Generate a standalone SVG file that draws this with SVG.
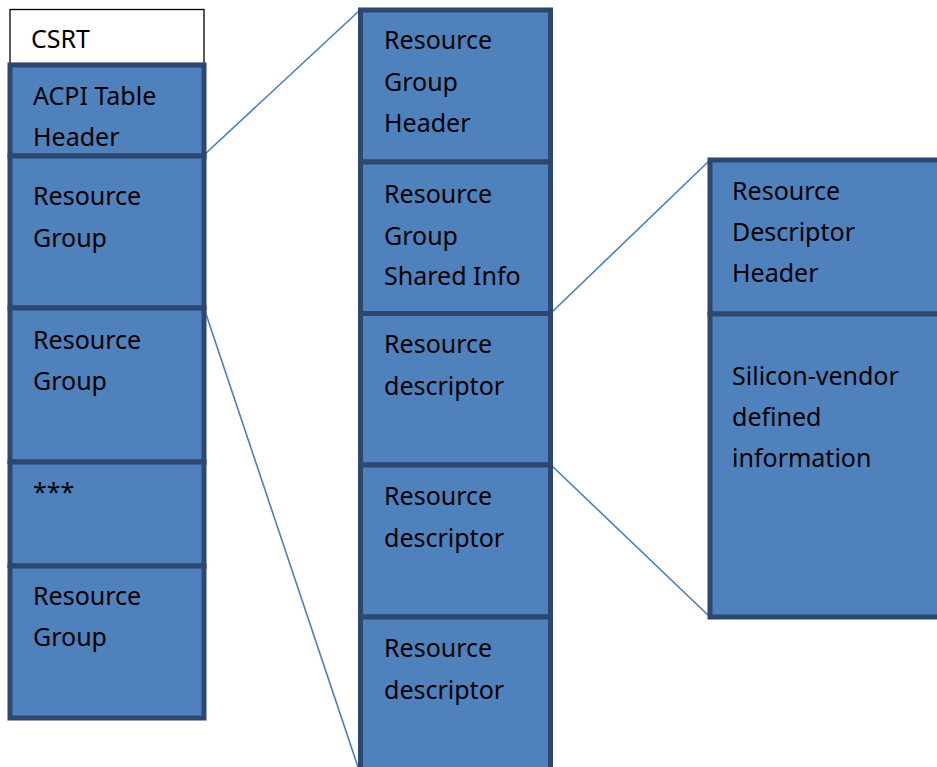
<svg xmlns="http://www.w3.org/2000/svg" width="937" height="767" viewBox="0 0 937 767">
<style>
.b{fill:#4f81bd;stroke:#2c4770;stroke-width:5}
.w{fill:#ffffff;stroke:#000000;stroke-width:1.3}
.t{font-family:"Noto Sans","Open Sans",sans-serif;font-size:25px;fill:#000000}
.c{stroke:#4a7ebb;stroke-width:1.6;fill:none}
</style>
<rect width="937" height="767" fill="#ffffff"/>
<g id="connectors">
<line class="c" x1="204" y1="155" x2="360" y2="10"/>
<line class="c" x1="204" y1="308" x2="358" y2="767"/>
<line class="c" x1="551" y1="313" x2="710" y2="160"/>
<line class="c" x1="551" y1="465" x2="710" y2="617"/>
</g>
<g id="csrt">
<rect class="w" x="10" y="9.5" width="194" height="54"/>
<text class="t" x="31" y="48">CSRT</text>
</g>
<g id="acpi-header">
<rect class="b" x="10" y="65" width="194" height="91"/>
<text class="t" x="33" y="105">ACPI Table</text>
<text class="t" x="33" y="146">Header</text>
</g>
<g id="resource-group-1">
<rect class="b" x="10" y="156" width="194" height="152"/>
<text class="t" x="33" y="205">Resource</text>
<text class="t" x="33" y="247">Group</text>
</g>
<g id="resource-group-2">
<rect class="b" x="10" y="308" width="194" height="154"/>
<text class="t" x="33" y="349">Resource</text>
<text class="t" x="33" y="390">Group</text>
</g>
<g id="ellipsis">
<rect class="b" x="10" y="462" width="194" height="104"/>
<text class="t" x="33" y="501">***</text>
</g>
<g id="resource-group-3">
<rect class="b" x="10" y="566" width="194" height="152"/>
<text class="t" x="33" y="605">Resource</text>
<text class="t" x="33" y="646">Group</text>
</g>
<g id="rg-header">
<rect class="b" x="360.5" y="10" width="190" height="152"/>
<text class="t" x="384" y="49">Resource</text>
<text class="t" x="384" y="91">Group</text>
<text class="t" x="384" y="132">Header</text>
</g>
<g id="rg-shared-info">
<rect class="b" x="360.5" y="162" width="190" height="151.5"/>
<text class="t" x="384" y="203">Resource</text>
<text class="t" x="384" y="245">Group</text>
<text class="t" x="384" y="285">Shared Info</text>
</g>
<g id="resource-descriptor-1">
<rect class="b" x="360.5" y="313.5" width="190" height="151.5"/>
<text class="t" x="384" y="353">Resource</text>
<text class="t" x="384" y="395">descriptor</text>
</g>
<g id="resource-descriptor-2">
<rect class="b" x="360.5" y="465" width="190" height="152"/>
<text class="t" x="384" y="505">Resource</text>
<text class="t" x="384" y="547">descriptor</text>
</g>
<g id="resource-descriptor-3">
<rect class="b" x="360.5" y="617" width="190" height="160"/>
<text class="t" x="384" y="657">Resource</text>
<text class="t" x="384" y="699">descriptor</text>
</g>
<g id="rd-header">
<rect class="b" x="710" y="160" width="240" height="154"/>
<text class="t" x="732" y="200">Resource</text>
<text class="t" x="732" y="241">Descriptor</text>
<text class="t" x="732" y="282">Header</text>
</g>
<g id="vendor-info">
<rect class="b" x="710" y="314" width="240" height="303"/>
<text class="t" x="732" y="385">Silicon-vendor</text>
<text class="t" x="732" y="426">defined</text>
<text class="t" x="732" y="467">information</text>
</g>
</svg>
